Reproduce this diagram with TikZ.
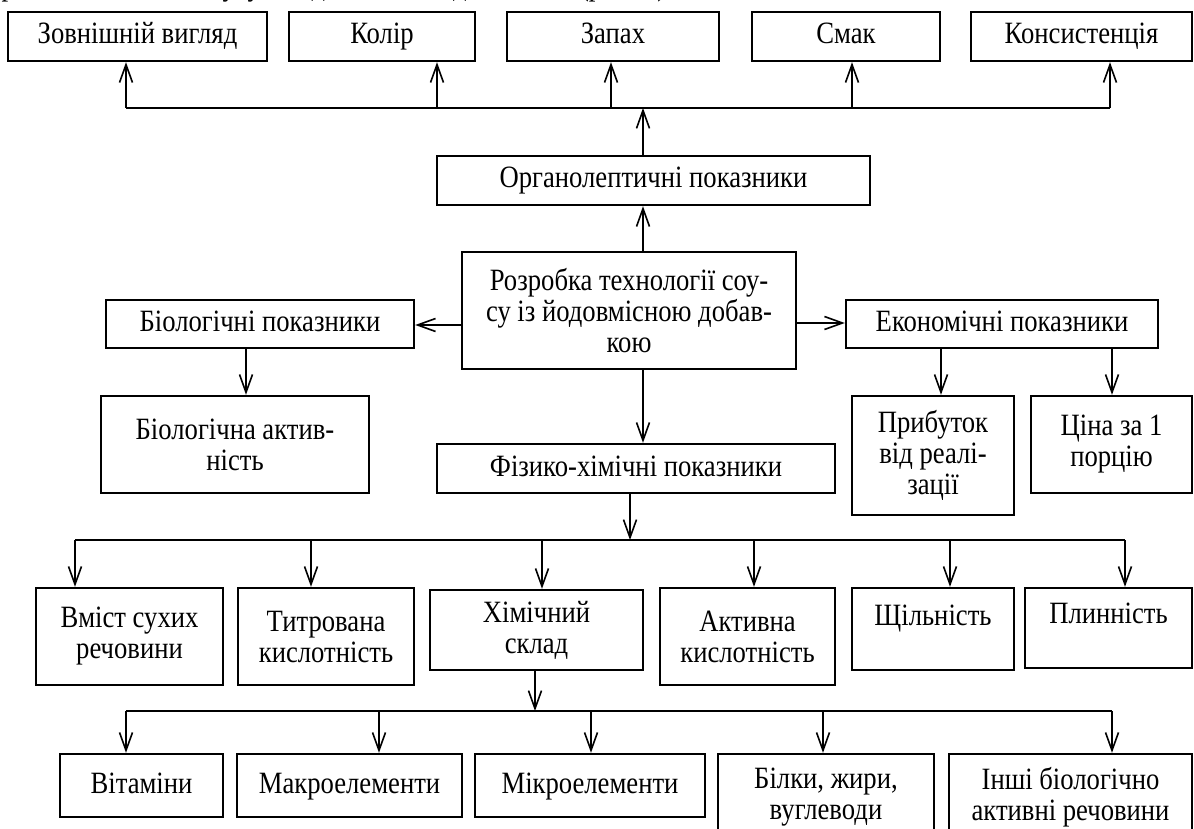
\documentclass[tikz,border=0pt]{standalone}
\usepackage{fontspec}
\setmainfont{Liberation Serif}[FakeStretch=0.86]
\usetikzlibrary{arrows.meta}
\newcommand\fs{\fontsize{31}{31}\selectfont\lineskiplimit=-40pt\relax}
\newcommand\bx[7][]{\node[box, #1, minimum width={#5pt-#3pt}, minimum height={#6pt-#4pt}] (#2) at ({(#3+#5)/2},{(#4+#6)/2}) {#7};}
\begin{document}
\begin{tikzpicture}[x=1pt,y=-1pt,
  box/.style={draw, line width=2.4pt, inner sep=0pt, align=center, font=\fs},
  sl/.style={text height=22pt, text depth=7pt},
  arr/.style={line width=1.6pt, -{Straight Barb[length=18pt,width=13pt]}},
  bus/.style={line width=2.4pt}]
\useasboundingbox (0,0) rectangle (1194,829);
\node[font=\fs, anchor=base east, inner sep=0pt] (hdr) at (673,-4) {розробки технології соусу з йодовмісними добавками (рис. 1).};
% top row
\bx[sl]{zov}{8}{12}{267}{61}{Зовнішній вигляд}
\bx[sl]{kol}{289}{12}{475}{61}{Колір}
\bx[sl]{zap}{507}{12}{719}{61}{Запах}
\bx[sl]{sma}{752}{12}{940}{61}{Смак}
\bx[sl]{kon}{971}{12}{1192}{61}{Консистенція}
% second level
\bx[sl]{org}{437}{156}{870}{205}{Органолептичні показники}
\bx{cen}{462}{252}{796}{369}{Розробка технології соу-\\су із йодовмісною добав-\\кою}
\bx[sl]{bio}{106}{300}{414}{348}{Біологічні показники}
\bx[sl]{eko}{846}{300}{1158}{348}{Економічні показники}
\bx{bac}{101}{396}{369}{493}{Біологічна актив-\\ність}
\bx[sl]{fiz}{437}{444}{835}{493}{Фізико-хімічні показники}
\bx{pri}{852}{396}{1014}{515}{Прибуток\\від реалі-\\зації}
\bx{cin}{1031}{396}{1192}{493}{Ціна за 1\\порцію}
% third row
\bx{vmi}{36}{588}{223}{685}{Вміст сухих\\речовини}
\bx{tit}{238}{588}{414}{685}{Титрована\\кислотність}
\bx{him}{430}{590}{643}{670}{Хімічний\\склад}
\bx{akt}{660}{588}{835}{685}{Активна\\кислотність}
\bx[text height=22pt, text depth=30pt]{shc}{852}{588}{1014}{670}{Щільність}
\bx[text height=22pt, text depth=32pt]{pln}{1025}{588}{1192}{668}{Плинність}
% fourth row
\bx[sl]{vit}{60}{754}{223}{817}{Вітаміни}
\bx[sl]{mak}{237}{754}{462}{817}{Макроелементи}
\bx[sl]{mik}{475}{754}{705}{817}{Мікроелементи}
\bx{bil}{718}{754}{934}{840}{Білки, жири,\\вуглеводи}
\bx{ins}{949}{754}{1192}{840}{Інші біологічно\\активні речовини}
% top bus
\coordinate (t1) at (126,108);
\coordinate (t2) at (437,108);
\coordinate (t3) at (611,108);
\coordinate (t4) at (852,108);
\coordinate (t5) at (1110,108);
\coordinate (tb) at (643,108);
\draw[bus] (t1) -- (t5);
\draw[arr] (t1) -- (t1 |- zov.south);
\draw[arr] (t2) -- (t2 |- kol.south);
\draw[arr] (t3) -- (t3 |- zap.south);
\draw[arr] (t4) -- (t4 |- sma.south);
\draw[arr] (t5) -- (t5 |- kon.south);
\draw[arr] (tb |- org.north) -- (tb);
\draw[arr] (tb |- cen.north) -- (tb |- org.south);
% sides
\coordinate (lb) at (0,325);
\coordinate (rb) at (0,323);
\draw[arr] (cen.west |- lb) -- (bio.east |- lb);
\draw[arr] (cen.east |- rb) -- (eko.west |- rb);
\coordinate (bx) at (246,0);
\draw[arr] (bx |- bio.south) -- (bx |- bac.north);
\coordinate (px) at (941,0);
\coordinate (cx) at (1112,0);
\draw[arr] (px |- eko.south) -- (px |- pri.north);
\draw[arr] (cx |- eko.south) -- (cx |- cin.north);
\draw[arr] (tb |- cen.south) -- (tb |- fiz.north);
% second bus
\coordinate (b0) at (630,540);
\coordinate (b1) at (75,540);
\coordinate (b2) at (311,540);
\coordinate (b3) at (542,540);
\coordinate (b4) at (754,540);
\coordinate (b5) at (950,540);
\coordinate (b6) at (1125,540);
\draw[bus] (b1) -- (b6);
\draw[arr] (b0 |- fiz.south) -- (b0);
\draw[arr] (b1) -- (b1 |- vmi.north);
\draw[arr] (b2) -- (b2 |- tit.north);
\draw[arr] (b3) -- (b3 |- him.north);
\draw[arr] (b4) -- (b4 |- akt.north);
\draw[arr] (b5) -- (b5 |- shc.north);
\draw[arr] (b6) -- (b6 |- pln.north);
% third bus
\coordinate (c0) at (535,711);
\coordinate (c1) at (126,711);
\coordinate (c2) at (379,711);
\coordinate (c3) at (591,711);
\coordinate (c4) at (823,711);
\coordinate (c5) at (1112,711);
\draw[bus] (c1) -- (c5);
\draw[arr] (c0 |- him.south) -- (c0);
\draw[arr] (c1) -- (c1 |- vit.north);
\draw[arr] (c2) -- (c2 |- mak.north);
\draw[arr] (c3) -- (c3 |- mik.north);
\draw[arr] (c4) -- (c4 |- bil.north);
\draw[arr] (c5) -- (c5 |- ins.north);
\end{tikzpicture}
\end{document}
